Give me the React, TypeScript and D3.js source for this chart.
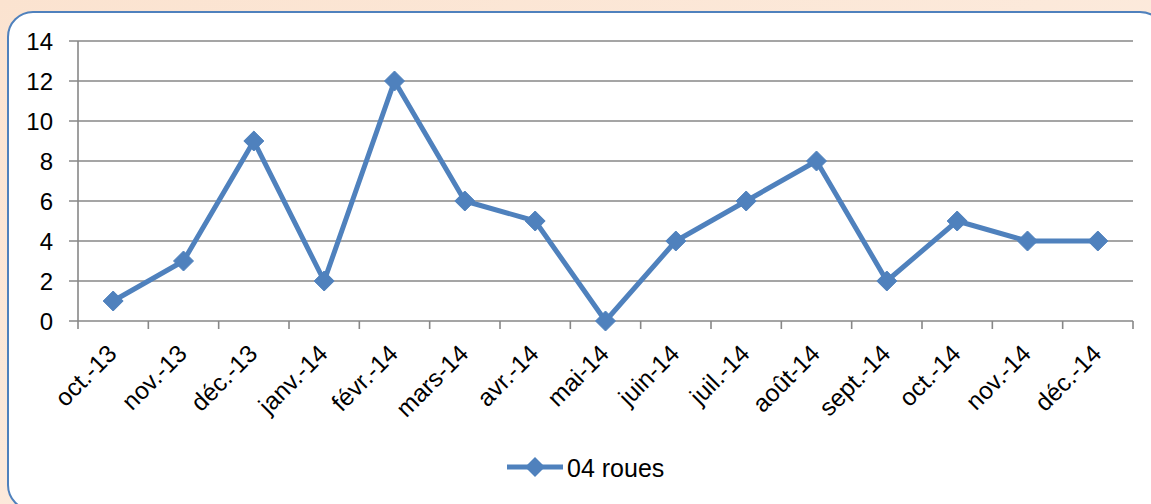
import React from "react";
import * as d3 from "d3";

const categories = ["oct.-13", "nov.-13", "déc.-13", "janv.-14", "févr.-14", "mars-14", "avr.-14", "mai-14", "juin-14", "juil.-14", "août-14", "sept.-14", "oct.-14", "nov.-14", "déc.-14"];
const values = [1, 3, 9, 2, 12, 6, 5, 0, 4, 6, 8, 2, 5, 4, 4];
const yTicks = [0, 2, 4, 6, 8, 10, 12, 14];
const seriesName = "04 roues";

const W = 1151, H = 504;
const FONT = "'Liberation Sans', Arial, sans-serif";
const BLUE = "#4F81BD";
const GRID = "#878787";

export default function App() {
  const x0 = 78, x1 = 1133, yTop = 41, yBot = 321;
  const x = d3.scaleBand<string>().domain(categories).range([x0, x1]);
  const y = d3.scaleLinear().domain([0, 14]).range([yBot, yTop]);
  const cx = (c: string) => (x(c) as number) + x.bandwidth() / 2;
  const line = d3.line<number>().x((_, i) => cx(categories[i])).y((v) => y(v));
  const diamond = (px: number, py: number, r: number) =>
    `M${px},${py - r}L${px + r},${py}L${px},${py + r}L${px - r},${py}Z`;
  const tickXs = categories.map((c) => x(c) as number).concat([x1]);

  return (
    <svg width={W} height={H} style={{ position: "absolute", left: 0, top: 0 }} fontFamily={FONT}>
      <defs>
        <linearGradient id="bg" x1="0" y1="0" x2="1" y2="1">
          <stop offset="0" stopColor="#FBE3D0" />
          <stop offset="1" stopColor="#FDF0E6" />
        </linearGradient>
      </defs>
      <rect x={0} y={0} width={W} height={H} fill="url(#bg)" />
      <rect x={8} y={12} width={1157} height={498} rx={25} ry={25} fill="#fff" stroke={BLUE} strokeWidth={2} />
      {yTicks.map((t) => (
        <g key={t}>
          <line x1={69} x2={x1} y1={y(t)} y2={y(t)} stroke={GRID} strokeWidth={1.6} />
          <text x={53} y={y(t)} dy="0.36em" textAnchor="end" fontSize={24} fill="#000">{t}</text>
        </g>
      ))}
      <line x1={x0} x2={x0} y1={yTop} y2={yBot} stroke={GRID} strokeWidth={1.6} />
      {tickXs.map((tx, i) => (
        <line key={i} x1={tx} x2={tx} y1={yBot} y2={yBot + 8} stroke={GRID} strokeWidth={1.6} />
      ))}
      {categories.map((c) => {
        const px = cx(c) + 5, py = yBot + 34;
        return (
          <text key={c} x={px} y={py} textAnchor="end" fontSize={24.5} fill="#000" transform={`rotate(-45 ${px} ${py})`}>{c}</text>
        );
      })}
      <path d={line(values) as string} fill="none" stroke={BLUE} strokeWidth={5} strokeLinejoin="round" />
      {values.map((v, i) => (
        <path key={i} d={diamond(cx(categories[i]), y(v), 10)} fill={BLUE} stroke={BLUE} strokeWidth={1} strokeLinejoin="round" />
      ))}
      <line x1={507} x2={563} y1={467} y2={467} stroke={BLUE} strokeWidth={5} />
      <path d={diamond(535, 467, 10)} fill={BLUE} />
      <text x={567} y={477} fontSize={25} fill="#000">{seriesName}</text>
    </svg>
  );
}
